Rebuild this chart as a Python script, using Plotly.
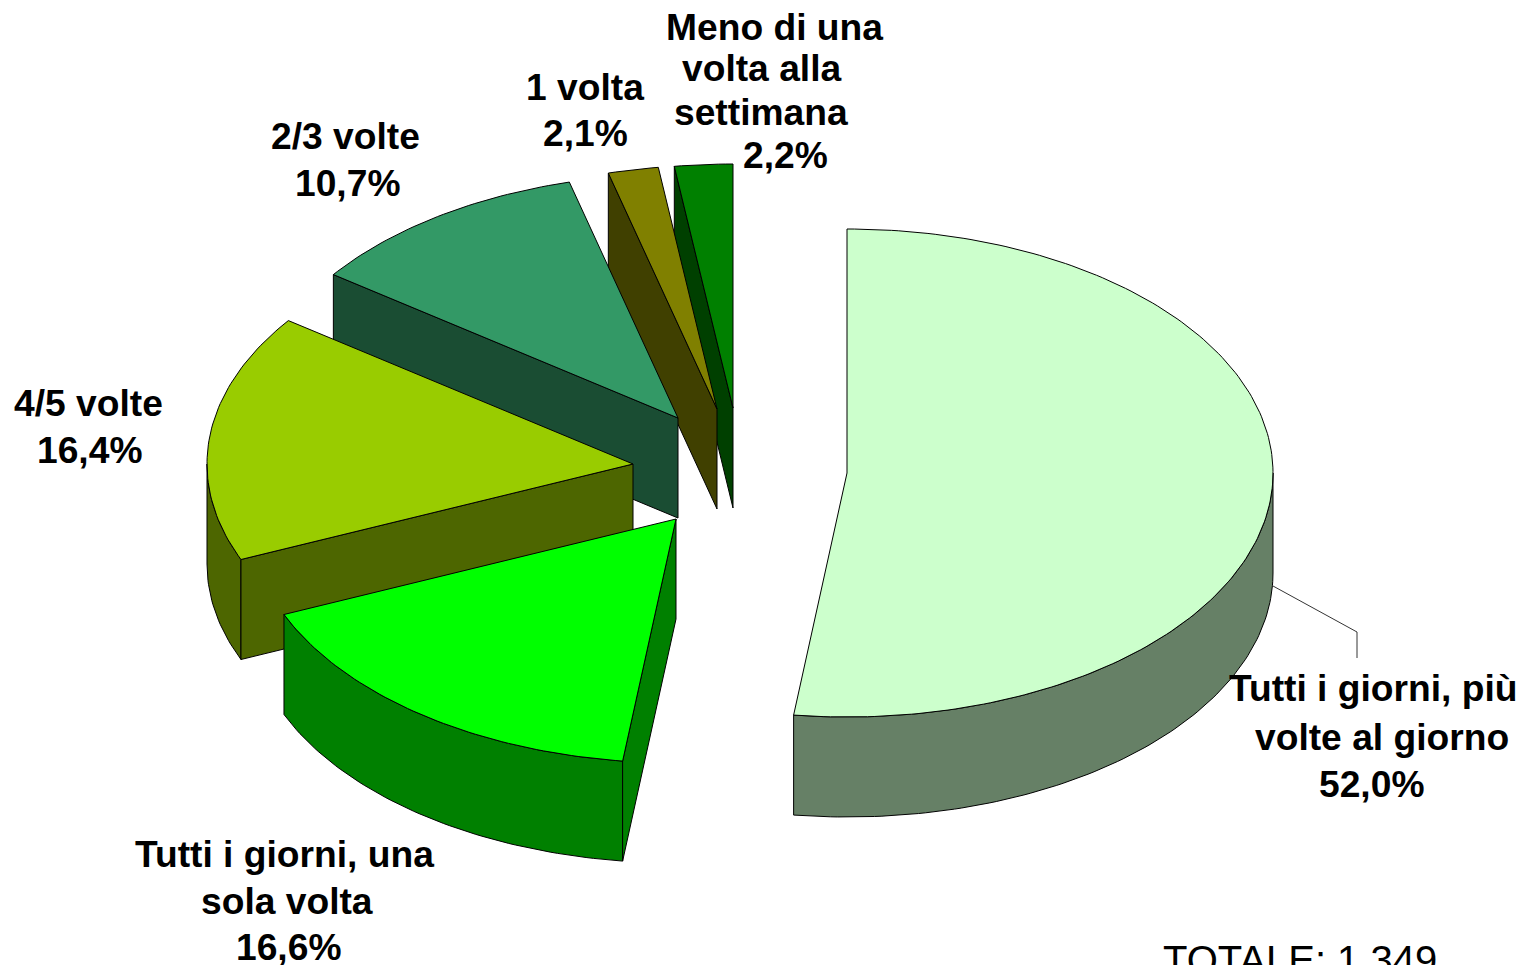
import math
import plotly.graph_objects as go

# --- data ---
categories = [
    "Tutti i giorni, più volte al giorno",
    "Tutti i giorni, una sola volta",
    "4/5 volte",
    "2/3 volte",
    "1 volta",
    "Meno di una volta alla settimana",
]
values = [52.0, 16.6, 16.4, 10.7, 2.1, 2.2]
total_label = "TOTALE: 1.349"

# --- styling ---
top_colors = ["#CCFFCC", "#00FF00", "#99CC00", "#339966", "#808000", "#008000"]
wall_colors = ["#668066", "#008000", "#4D6600", "#1A4D33", "#404000", "#004000"]
FONT = "Liberation Sans, Arial, sans-serif"
FS = 37.2
FS_TOTAL = 40

# --- 3D projection geometry (page pixels) ---
RX, RY, DEPTH = 426, 244, 100
apexes = [(847, 473), (676, 519), (633, 464), (678, 418), (717, 409), (733, 408)]
draw_order = [5, 4, 3, 2, 1, 0]
# small angular correction (degrees) of the boundary after a slice, for the 3D view's distortion
boundary_nudge = [0, 0, 0, 0.7, 0, 0]


def pt(apex, deg, dz=0):
    a = math.radians(deg)
    return apex[0] + RX * math.sin(a), apex[1] - RY * math.cos(a) + dz


def arc(apex, a0, a1, dz=0):
    n = max(2, int(abs(a1 - a0)) + 2)
    return [pt(apex, a0 + (a1 - a0) * i / (n - 1), dz) for i in range(n)]


def face(points, color):
    xs = [p[0] for p in points] + [points[0][0]]
    ys = [p[1] for p in points] + [points[0][1]]
    return go.Scatter(
        x=xs, y=ys, mode="lines", fill="toself", fillcolor=color,
        line=dict(color="#000000", width=1), hoverinfo="skip", showlegend=False,
    )


fig = go.Figure()
scale = 360.0 / sum(values)
bounds = [0.0]
running = 0.0
for v, nudge in zip(values, boundary_nudge):
    running += v
    bounds.append(running * scale + nudge)

for i in draw_order:
    a0, a1 = bounds[i], bounds[i + 1]
    apex = apexes[i]
    # outer curved wall (only the part facing the viewer)
    w0, w1 = max(a0, 90), min(a1, 270)
    if w1 > w0:
        fig.add_trace(face(arc(apex, w0, w1) + arc(apex, w1, w0, DEPTH), wall_colors[i]))
    # radial cut wall at the start of the slice (visible for the left half)
    if a0 > 180:
        e = pt(apex, a0)
        fig.add_trace(face([apex, e, (e[0], e[1] + DEPTH), (apex[0], apex[1] + DEPTH)], wall_colors[i]))
    # top face
    fig.add_trace(face([apex] + arc(apex, a0, a1), top_colors[i]))

# leader line of the largest slice
fig.add_trace(go.Scatter(
    x=[1273, 1357, 1357], y=[586, 632, 658], mode="lines",
    line=dict(color="#000000", width=0.8), hoverinfo="skip", showlegend=False,
))


def pct(v):
    return f"{v:.1f}".replace(".", ",") + "%"


label_lines = [
    ("Tutti i giorni, più", 1373, 688), ("volte al giorno", 1382, 737), (pct(values[0]), 1371, 784),
    ("Tutti i giorni, una", 284, 854), ("sola volta", 287, 901), (pct(values[1]), 288, 947),
    ("4/5 volte", 88, 403), (pct(values[2]), 89, 450),
    ("2/3 volte", 345, 136), (pct(values[3]), 347, 183),
    ("1 volta", 585, 87), (pct(values[4]), 585, 133),
    ("Meno di una", 774, 27), ("volta alla", 761, 68), ("settimana", 761, 112), (pct(values[5]), 785, 155),
]
annotations = [
    dict(x=x, y=y, text=f"<b>{t}</b>", showarrow=False, xanchor="center", yanchor="middle",
         xref="x", yref="y", font=dict(family=FONT, size=FS, color="#000000"))
    for t, x, y in label_lines
]
annotations.append(dict(x=1161, y=960, text=total_label, showarrow=False, xanchor="left", yanchor="middle",
                        xref="x", yref="y", font=dict(family=FONT, size=FS_TOTAL, color="#000000")))

fig.update_layout(
    width=1522, height=965, autosize=False,
    margin=dict(l=0, r=0, t=0, b=0, pad=0),
    paper_bgcolor="#FFFFFF", plot_bgcolor="#FFFFFF",
    xaxis=dict(range=[0, 1522], visible=False, fixedrange=True),
    yaxis=dict(range=[965, 0], visible=False, fixedrange=True),
    annotations=annotations, showlegend=False,
)

fig.write_html(
    "out.html",
    config=dict(displayModeBar=False, responsive=False),
    post_script="document.documentElement.style.overflow='hidden';document.body.style.margin='0';document.body.style.overflow='hidden';",
)
